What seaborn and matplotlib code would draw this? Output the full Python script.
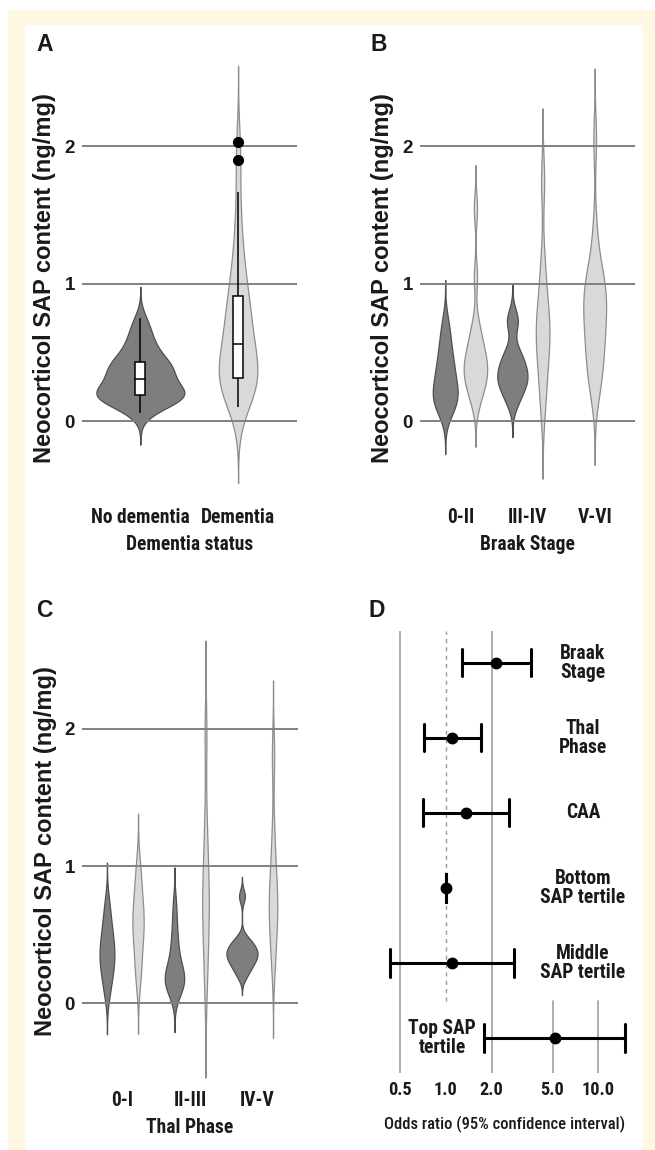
import numpy as np
import pandas as pd
import matplotlib
matplotlib.use("Agg")
import matplotlib.pyplot as plt
from matplotlib.patches import Rectangle
from matplotlib.ticker import NullLocator
from matplotlib import font_manager as fm
from matplotlib.textpath import TextPath
from matplotlib.font_manager import FontProperties
import seaborn as sns

# ---------------- data ----------------
status_levels = ["No dementia", "Dementia"]
sap_no_dementia = [0.06, 0.10, 0.12, 0.14, 0.15, 0.16, 0.17, 0.18, 0.185, 0.19,
                   0.195, 0.20, 0.21, 0.22, 0.23, 0.24, 0.26, 0.28, 0.31,
                   0.32, 0.33, 0.35, 0.36, 0.38, 0.39, 0.40, 0.42, 0.43,
                   0.45, 0.47, 0.50, 0.53, 0.56, 0.60, 0.64, 0.69, 0.75]
sap_dementia = [0.108, 0.14, 0.17, 0.19, 0.21, 0.23, 0.25, 0.26, 0.28, 0.29, 0.30, 0.318,
                0.33, 0.35, 0.37, 0.39, 0.41, 0.43, 0.45, 0.48, 0.50, 0.53, 0.561,
                0.59, 0.62, 0.65, 0.68, 0.71, 0.74, 0.77, 0.80, 0.84, 0.87, 0.91,
                0.95, 1.00, 1.05, 1.11, 1.18, 1.26, 1.36, 1.50, 1.67, 1.90, 2.03]

braak_levels = ["0-II", "III-IV", "V-VI"]
braak_02_no = [0.05, 0.08, 0.11, 0.13, 0.15, 0.17, 0.19, 0.21, 0.23, 0.25, 0.28,
               0.31, 0.34, 0.37, 0.40, 0.43, 0.47, 0.51, 0.56, 0.61, 0.67, 0.74]
braak_02_dem = [0.13, 0.20, 0.25, 0.29, 0.32, 0.35, 0.38, 0.41, 0.44, 0.48,
                0.52, 0.57, 0.63, 0.72, 1.05, 1.55]
braak_34_no = [0.12, 0.17, 0.21, 0.24, 0.27, 0.29, 0.31, 0.33, 0.35, 0.37,
               0.40, 0.43, 0.46, 0.49, 0.53, 0.70, 0.73, 0.77]
braak_34_dem = [0.11, 0.30, 0.45, 0.55, 0.63, 0.71, 0.80, 0.92, 1.15, 1.75]
braak_56_dem = [0.20, 0.28, 0.35, 0.42, 0.48, 0.54, 0.60, 0.66, 0.71, 0.76,
                0.81, 0.86, 0.90, 0.94, 0.98, 1.03, 1.09, 1.17, 1.40, 2.05]

thal_levels = ["0-I", "II-III", "IV-V"]
thal_01_no = [0.08, 0.18, 0.25, 0.30, 0.35, 0.40, 0.45, 0.52, 0.60, 0.72]
thal_01_dem = [0.18, 0.33, 0.46, 0.55, 0.62, 0.70, 0.82, 0.98]
thal_23_no = [0.06, 0.10, 0.13, 0.15, 0.17, 0.19, 0.21, 0.24, 0.28, 0.33,
              0.40, 0.48, 0.58, 0.72]
thal_23_dem = [0.15, 0.42, 0.60, 0.72, 0.85, 1.00, 1.30, 1.95]
thal_45_no = [0.20, 0.25, 0.28, 0.31, 0.33, 0.35, 0.37, 0.39, 0.41, 0.44, 0.47, 0.78]
thal_45_dem = [0.30, 0.50, 0.62, 0.72, 0.82, 0.94, 1.20, 1.80]

or_terms = ["Braak\nStage", "Thal\nPhase", "CAA", "Bottom\nSAP tertile",
            "Middle\nSAP tertile", "Top SAP\ntertile"]
or_estimate = [2.13, 1.10, 1.35, 1.00, 1.10, 5.20]
or_lower = [1.27, 0.72, 0.71, 1.00, 0.43, 1.79]
or_upper = [3.63, 1.71, 2.58, 1.00, 2.78, 15.0]
or_ticks = [0.5, 1.0, 2.0, 5.0, 10.0]
or_tick_labels = ["0.5", "1.0", "2.0", "5.0", "10.0"]
sap_ticks = [0, 1, 2]

# ---------------- long-form tables ----------------
def stack(pairs, cols):
    frames = []
    for key, vals in pairs:
        d = {c: [k] * len(vals) for c, k in zip(cols, key)}
        d["sap"] = vals
        frames.append(pd.DataFrame(d))
    return pd.concat(frames, ignore_index=True)

dfA = stack([(("No dementia",), sap_no_dementia), (("Dementia",), sap_dementia)], ["status"])
dfB = stack([(("0-II", "No dementia"), braak_02_no), (("0-II", "Dementia"), braak_02_dem),
             (("III-IV", "No dementia"), braak_34_no), (("III-IV", "Dementia"), braak_34_dem)],
            ["stage", "status"])
dfB56 = stack([(("V-VI", "Dementia"), braak_56_dem)], ["stage", "status"])
dfC = stack([(("0-I", "No dementia"), thal_01_no), (("0-I", "Dementia"), thal_01_dem),
             (("II-III", "No dementia"), thal_23_no), (("II-III", "Dementia"), thal_23_dem),
             (("IV-V", "No dementia"), thal_45_no), (("IV-V", "Dementia"), thal_45_dem)],
            ["phase", "status"])
dfD = pd.DataFrame({
    "term": np.repeat(or_terms, 3),
    "odds": np.column_stack([or_lower, or_estimate, or_upper]).ravel(),
})

# R-like "nrd0" bandwidth for the violins
def nrd0(kde):
    x = np.asarray(kde.dataset, dtype=float).ravel()
    sd = np.std(x, ddof=1)
    q75, q25 = np.percentile(x, [75, 25])
    lo = min(sd, (q75 - q25) / 1.34)
    if not lo > 0:
        lo = sd if sd > 0 else 1.0
    return 0.9 * lo * x.size ** -0.2 / sd

# ---------------- fonts ----------------
sns.set_theme(style="white")

def pick_condensed():
    names = {f.name for f in fm.fontManager.ttflist}
    for p in ["Liberation Sans Narrow", "Arial Narrow", "Roboto Condensed",
              "Noto Sans Condensed", "Open Sans Condensed", "DejaVu Sans Condensed",
              "Nimbus Sans Narrow"]:
        if p in names:
            return {"family": [p, "DejaVu Sans"], "stretch": "normal"}
    for f in fm.fontManager.ttflist:
        if (f.stretch in ("condensed", "semi-condensed", "extra-condensed")
                and f.style == "normal" and str(f.weight) in ("400", "normal", "regular")):
            return {"family": [f.name, "DejaVu Sans"], "stretch": f.stretch}
    return {"family": ["Liberation Sans", "DejaVu Sans"], "stretch": "normal"}

NARROW = pick_condensed()
plt.rcParams["font.family"] = NARROW["family"]
BOLD = ["Liberation Sans", "DejaVu Sans"]
NW = "bold"

def fit_size(text, target_px, weight):
    fp = FontProperties(family=NARROW["family"], stretch=NARROW["stretch"], weight=weight)
    w = TextPath((0, 0), text, size=10, prop=fp).get_extents().width
    return 10 * target_px * 0.72 / w

# reference: "No dementia" is ~95-100 px wide at a nominal 15 pt
BASE = min(fit_size("No dementia", 97, NW), 17.0) / 15.0
NK = {"fontstretch": NARROW["stretch"], "fontweight": NW}

W, H = 655, 1150
CREAM = "#fff9e3"
DARK, LIGHT = "#7e7e7e", "#d9d9d9"
DARK_EDGE, LIGHT_EDGE = "#4f4f4f", "#8d8d8d"
GRID = "#808080"
TXT = "#1a1a1a"
pal = {"No dementia": DARK, "Dementia": LIGHT}

def rect(x0, y0, x1, y1):
    return [x0 / W, 1 - y1 / H, (x1 - x0) / W, (y1 - y0) / H]

fig = plt.figure(figsize=(W / 100, H / 100), dpi=100, facecolor=CREAM)
fig.patches.append(Rectangle((25 / W, 0), 618 / W, (H - 25) / H, transform=fig.transFigure,
                             facecolor="white", edgecolor="none", zorder=-10))
fig.patches.append(Rectangle((0, 1 - 10 / H), 1, 10 / H, transform=fig.transFigure,
                             facecolor="white", edgecolor="none", zorder=-10))
fig.patches.append(Rectangle((0, 0), 8 / W, 1, transform=fig.transFigure,
                             facecolor="white", edgecolor="none", zorder=-10))

axA = fig.add_axes(rect(81.7, 53, 296.7, 497))
axB = fig.add_axes(rect(420, 53, 635, 497))
axC = fig.add_axes(rect(82, 616, 298, 1080))
axD = fig.add_axes(rect(370, 631, 640, 1073))

vkw = dict(density_norm="area", common_norm=True, cut=3, bw_method=nrd0,
           inner=None, linewidth=0.9, gridsize=300, legend=False)

# A
sns.violinplot(data=dfA, x="status", y="sap", hue="status", order=status_levels,
               hue_order=status_levels, palette=pal, width=0.9, ax=axA, **vkw)
sns.boxplot(data=dfA, x="status", y="sap", order=status_levels, width=0.1, color="white",
            linecolor="black", linewidth=1.1, showcaps=False,
            flierprops=dict(marker="o", markerfacecolor="black", markeredgecolor="black",
                            markersize=7), ax=axA)
# B
sns.violinplot(data=dfB, x="stage", y="sap", hue="status", order=braak_levels,
               hue_order=status_levels, palette=pal, width=0.9, dodge=True, ax=axB, **vkw)
sns.violinplot(data=dfB56, x="stage", y="sap", order=braak_levels, color=LIGHT,
               width=0.34, ax=axB, **vkw)
# C
sns.violinplot(data=dfC, x="phase", y="sap", hue="status", order=thal_levels,
               hue_order=status_levels, palette=pal, width=0.92, dodge=True, ax=axC, **vkw)

def finish_violin_axes(ax, ylim, xlabel, ylab_x):
    for coll in ax.collections:
        fc = coll.get_facecolor()
        if len(fc):
            coll.set_edgecolor(DARK_EDGE if fc[0][0] < 0.6 else LIGHT_EDGE)
    ax.set_ylim(*ylim)
    n = len(ax.get_xticks())
    ax.set_xlim(-0.6, n - 1 + 0.6)
    for t in sap_ticks:
        ax.axhline(t, color=GRID, linewidth=1.4, zorder=1.5)
    ax.set_yticks(sap_ticks)
    ax.set_yticklabels([str(t) for t in sap_ticks], fontsize=13.5, fontweight="bold",
                       family=BOLD, color=TXT)
    for lab in ax.get_xticklabels():
        lab.set_fontsize(15 * BASE)
        lab.set_fontstretch(NARROW["stretch"])
        lab.set_fontweight(NW)
        lab.set_color(TXT)
    for sp in ax.spines.values():
        sp.set_visible(False)
    ax.tick_params(axis="y", length=0, pad=5)
    ax.tick_params(axis="x", length=0, pad=8)
    ax.set_xlabel(xlabel, fontsize=15 * BASE, labelpad=6, color=TXT, **NK)
    ax.set_ylabel("Neocorticol SAP content (ng/mg)", fontsize=17, fontweight="bold",
                  family=BOLD, color=TXT)
    ax.yaxis.set_label_coords(ylab_x, 0.494)
    ax.set_facecolor("white")

finish_violin_axes(axA, (-0.55, 2.68), "Dementia status", -0.118)
finish_violin_axes(axB, (-0.55, 2.68), "Braak Stage", -0.121)
finish_violin_axes(axC, (-0.5586, 2.821), "Thal Phase", -0.118)

# D: forest plot
sns.pointplot(data=dfD, x="odds", y="term", order=or_terms, estimator="median",
              errorbar=("pi", 100), color="black", linestyle="none", marker="o",
              markersize=6.5, capsize=0.37, err_kws={"linewidth": 2.2}, log_scale=True, ax=axD)
axD.set_xlim(0.3196, 18.69)
axD.set_ylim(5.47, -0.42)
axD.set_xticks(or_ticks)
axD.set_xticklabels(or_tick_labels, fontsize=14 * BASE, color=TXT, **NK)
axD.xaxis.set_minor_locator(NullLocator())
axD.tick_params(axis="x", length=0, pad=6)
axD.tick_params(axis="y", left=False, labelleft=False)
axD.set_ylabel("")
axD.set_xlabel("Odds ratio (95% confidence interval)", fontsize=12.8 * BASE, labelpad=12,
               color=TXT, fontstretch=NARROW["stretch"], fontweight="medium")
for sp in axD.spines.values():
    sp.set_visible(False)
axD.axvline(0.5, color="#a0a0a0", linewidth=1.2, zorder=0)
axD.axvline(2.0, color="#a0a0a0", linewidth=1.2, zorder=0)
axD.axvline(1.0, ymin=0.163, ymax=1, color="#9a9a9a", linewidth=1.0,
            linestyle=(0, (3, 3)), zorder=0)
axD.axvline(5.0, ymin=0, ymax=0.163, color="#a0a0a0", linewidth=1.2, zorder=0)
axD.axvline(10.0, ymin=0, ymax=0.163, color="#a0a0a0", linewidth=1.2, zorder=0)
for i, term in enumerate(or_terms):
    xpos = 7.9 if i < len(or_terms) - 1 else 0.95
    axD.text(xpos, i, term, ha="center", va="center", fontsize=15 * BASE,
             linespacing=1.0, color=TXT, **NK)

# panel letters
for lab, x, y in [("A", 36, 51), ("B", 370, 51), ("C", 36, 617), ("D", 369, 617)]:
    fig.text(x / W, 1 - y / H, lab, fontsize=16.5, fontweight="bold", family=BOLD,
             ha="left", va="baseline", color=TXT)

fig.savefig("out.png", dpi=100, facecolor=CREAM)
